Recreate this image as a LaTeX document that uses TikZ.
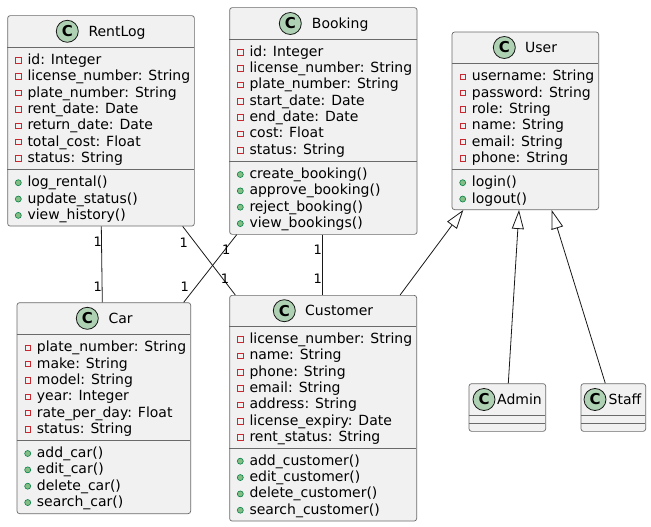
\documentclass[tikz,border=0pt]{standalone}
\usepackage{fontspec}
\setmainfont{DejaVu Sans}
\usetikzlibrary{arrows.meta}
\definecolor{boxfill}{HTML}{F1F1F1}
\definecolor{boxline}{HTML}{181818}
\definecolor{boxedge}{HTML}{6A6A6A}
\definecolor{iconfill}{HTML}{ADD1B2}
\definecolor{privred}{HTML}{C82930}
\definecolor{pubfill}{HTML}{84BE84}
\definecolor{publine}{HTML}{038048}
\tikzset{
  classbox/.style={draw=boxedge, line width=0.7pt, fill=boxfill, rounded corners=2.5pt, inner sep=0pt, anchor=north west},
  divider/.style={draw=boxedge, line width=0.7pt},
  cicon/.style={circle, draw=boxline, line width=0.8pt, fill=iconfill, minimum size=22pt, inner sep=0pt, font=\fontsize{15pt}{15pt}\selectfont\bfseries},
  cname/.style={inner sep=0pt, anchor=base west, font=\fontsize{14pt}{16pt}\selectfont},
  member/.style={inner sep=0pt, anchor=base west, font=\fontsize{14pt}{16pt}\selectfont},
  privicon/.style={draw=privred, line width=0.8pt, minimum size=5.5pt, inner sep=0pt},
  pubicon/.style={circle, draw=publine, line width=0.6pt, fill=pubfill, minimum size=6pt, inner sep=0pt},
  assoc/.style={draw=boxline, line width=0.8pt},
  inherit/.style={draw=boxline, line width=0.8pt, -{Triangle[length=19pt, width=12pt, fill=white, line width=0.8pt]}},
  mult/.style={inner sep=0pt, font=\fontsize{13pt}{13pt}\selectfont},
}
% #1 prefix, #2 left, #3 first center y, #4 list
\newcommand{\privlist}[4]{%
  \foreach \t [count=\i from 0] in {#4} {
    \node[privicon] (#1-pi\i) at (#2+11, #3+\i*16.35+1) {};
    \node[member] (#1-pt\i) at (#2+20, #3+\i*16.35+5) {\t};
  }}
\newcommand{\publist}[4]{%
  \foreach \t [count=\i from 0] in {#4} {
    \node[pubicon] (#1-mi\i) at (#2+11, #3+\i*16.35+1) {};
    \node[member] (#1-mt\i) at (#2+20, #3+\i*16.35+5) {\t};
  }}
\begin{document}
\begin{tikzpicture}[x=1pt, y=-1pt]
\useasboundingbox (0,0) rectangle (651,527);

% ---------- RentLog ----------
\node[classbox, minimum width=186.7pt, minimum height=210.4pt] (rentlog) at (7.3,15.3) {};
\draw[divider] (7.3,47.3) -- (194,47.3);
\draw[divider] (7.3,169.3) -- (194,169.3);
\node[cicon] (rentlog-c) at (67.3,31.3) {C};
\node[cname] (rentlog-n) at (88.3,36.3) {RentLog};
\privlist{rentlog}{7.3}{59.3}{id: Integer, license\_number: String, plate\_number: String, rent\_date: Date, return\_date: Date, total\_cost: Float, status: String}
\publist{rentlog}{7.3}{181.7}{log\_rental(), update\_status(), view\_history()}

% ---------- Booking ----------
\node[classbox, minimum width=187.4pt, minimum height=226.7pt] (booking) at (229.3,7.3) {};
\draw[divider] (229.3,39.3) -- (416.7,39.3);
\draw[divider] (229.3,161.7) -- (416.7,161.7);
\node[cicon] (booking-c) at (290.3,23.5) {C};
\node[cname] (booking-n) at (311.7,28.5) {Booking};
\privlist{booking}{229.3}{51.2}{id: Integer, license\_number: String, plate\_number: String, start\_date: Date, end\_date: Date, cost: Float, status: String}
\publist{booking}{229.3}{173.5}{create\_booking(), approve\_booking(), reject\_booking(), view\_bookings()}

% ---------- User ----------
\node[classbox, minimum width=146.6pt, minimum height=177.6pt] (user) at (451.7,31.7) {};
\draw[divider] (451.7,63.3) -- (598.3,63.3);
\draw[divider] (451.7,169.3) -- (598.3,169.3);
\node[cicon] (user-c) at (504.3,47.5) {C};
\node[cname] (user-n) at (525,52.5) {User};
\privlist{user}{451.7}{75.7}{username: String, password: String, role: String, name: String, email: String, phone: String}
\publist{user}{451.7}{181.7}{login(), logout()}

% ---------- Car ----------
\node[classbox, minimum width=173.6pt, minimum height=211pt] (car) at (16.7,302.3) {};
\draw[divider] (16.7,334.3) -- (190.3,334.3);
\draw[divider] (16.7,440.3) -- (190.3,440.3);
\node[cicon] (car-c) at (87.3,318.3) {C};
\node[cname] (car-n) at (108.3,323.3) {Car};
\privlist{car}{16.7}{346.7}{plate\_number: String, make: String, model: String, year: Integer, rate\_per\_day: Float, status: String}
\publist{car}{16.7}{452.5}{add\_car(), edit\_car(), delete\_car(), search\_car()}

% ---------- Customer ----------
\node[classbox, minimum width=187pt, minimum height=225.7pt] (customer) at (229.3,295) {};
\draw[divider] (229.3,326.5) -- (416.3,326.5);
\draw[divider] (229.3,448.3) -- (416.3,448.3);
\node[cicon] (customer-c) at (284.3,310.7) {C};
\node[cname] (customer-n) at (305,315.7) {Customer};
\privlist{customer}{229.3}{338.5}{license\_number: String, name: String, phone: String, email: String, address: String, license\_expiry: Date, rent\_status: String}
\publist{customer}{229.3}{460.2}{add\_customer(), edit\_customer(), delete\_customer(), search\_customer()}

% ---------- Admin ----------
\node[classbox, minimum width=76.6pt, minimum height=47.7pt] (admin) at (468.7,383.3) {};
\draw[divider] (468.7,415.7) -- (545.3,415.7);
\draw[divider] (468.7,423.3) -- (545.3,423.3);
\node[cicon] (admin-c) at (484,399.5) {C};
\node[cname] (admin-n) at (497,404.5) {Admin};

% ---------- Staff ----------
\node[classbox, minimum width=64.6pt, minimum height=47.7pt] (staff) at (580.7,383.3) {};
\draw[divider] (580.7,415.7) -- (645.3,415.7);
\draw[divider] (580.7,423.3) -- (645.3,423.3);
\node[cicon] (staff-c) at (595,399.5) {C};
\node[cname] (staff-n) at (608.5,404.5) {Staff};

% ---------- associations ----------
\draw[assoc] ([xshift=94pt]rentlog.south west) -- ([xshift=85.6pt]car.north west);
\draw[assoc] ([xshift=175.4pt]rentlog.south west) -- ([xshift=6pt]customer.north west);
\draw[assoc] ([xshift=7.4pt]booking.south west) -- ([xshift=167pt]car.north west);
\draw[assoc] ([xshift=93pt]booking.south west) -- ([xshift=93pt]customer.north west);

\node[mult] (m1) at (97.7,241.7) {1};
\node[mult] (m2) at (97.7,286.7) {1};
\node[mult] (m3) at (183.7,242.3) {1};
\node[mult] (m4) at (225,278.3) {1};
\node[mult] (m5) at (226.3,250) {1};
\node[mult] (m6) at (184.7,286.7) {1};
\node[mult] (m7) at (317.7,250) {1};
\node[mult] (m8) at (317.7,279) {1};

% ---------- generalisations ----------
\draw[inherit] ([xshift=170.8pt]customer.north west) -- ([xshift=11.6pt]user.south west);
\draw[inherit] ([xshift=39.6pt]admin.north west) -- ([xshift=67.3pt]user.south west);
\draw[inherit] ([xshift=24.6pt]staff.north west) -- ([xshift=100pt]user.south west);
\end{tikzpicture}
\end{document}
